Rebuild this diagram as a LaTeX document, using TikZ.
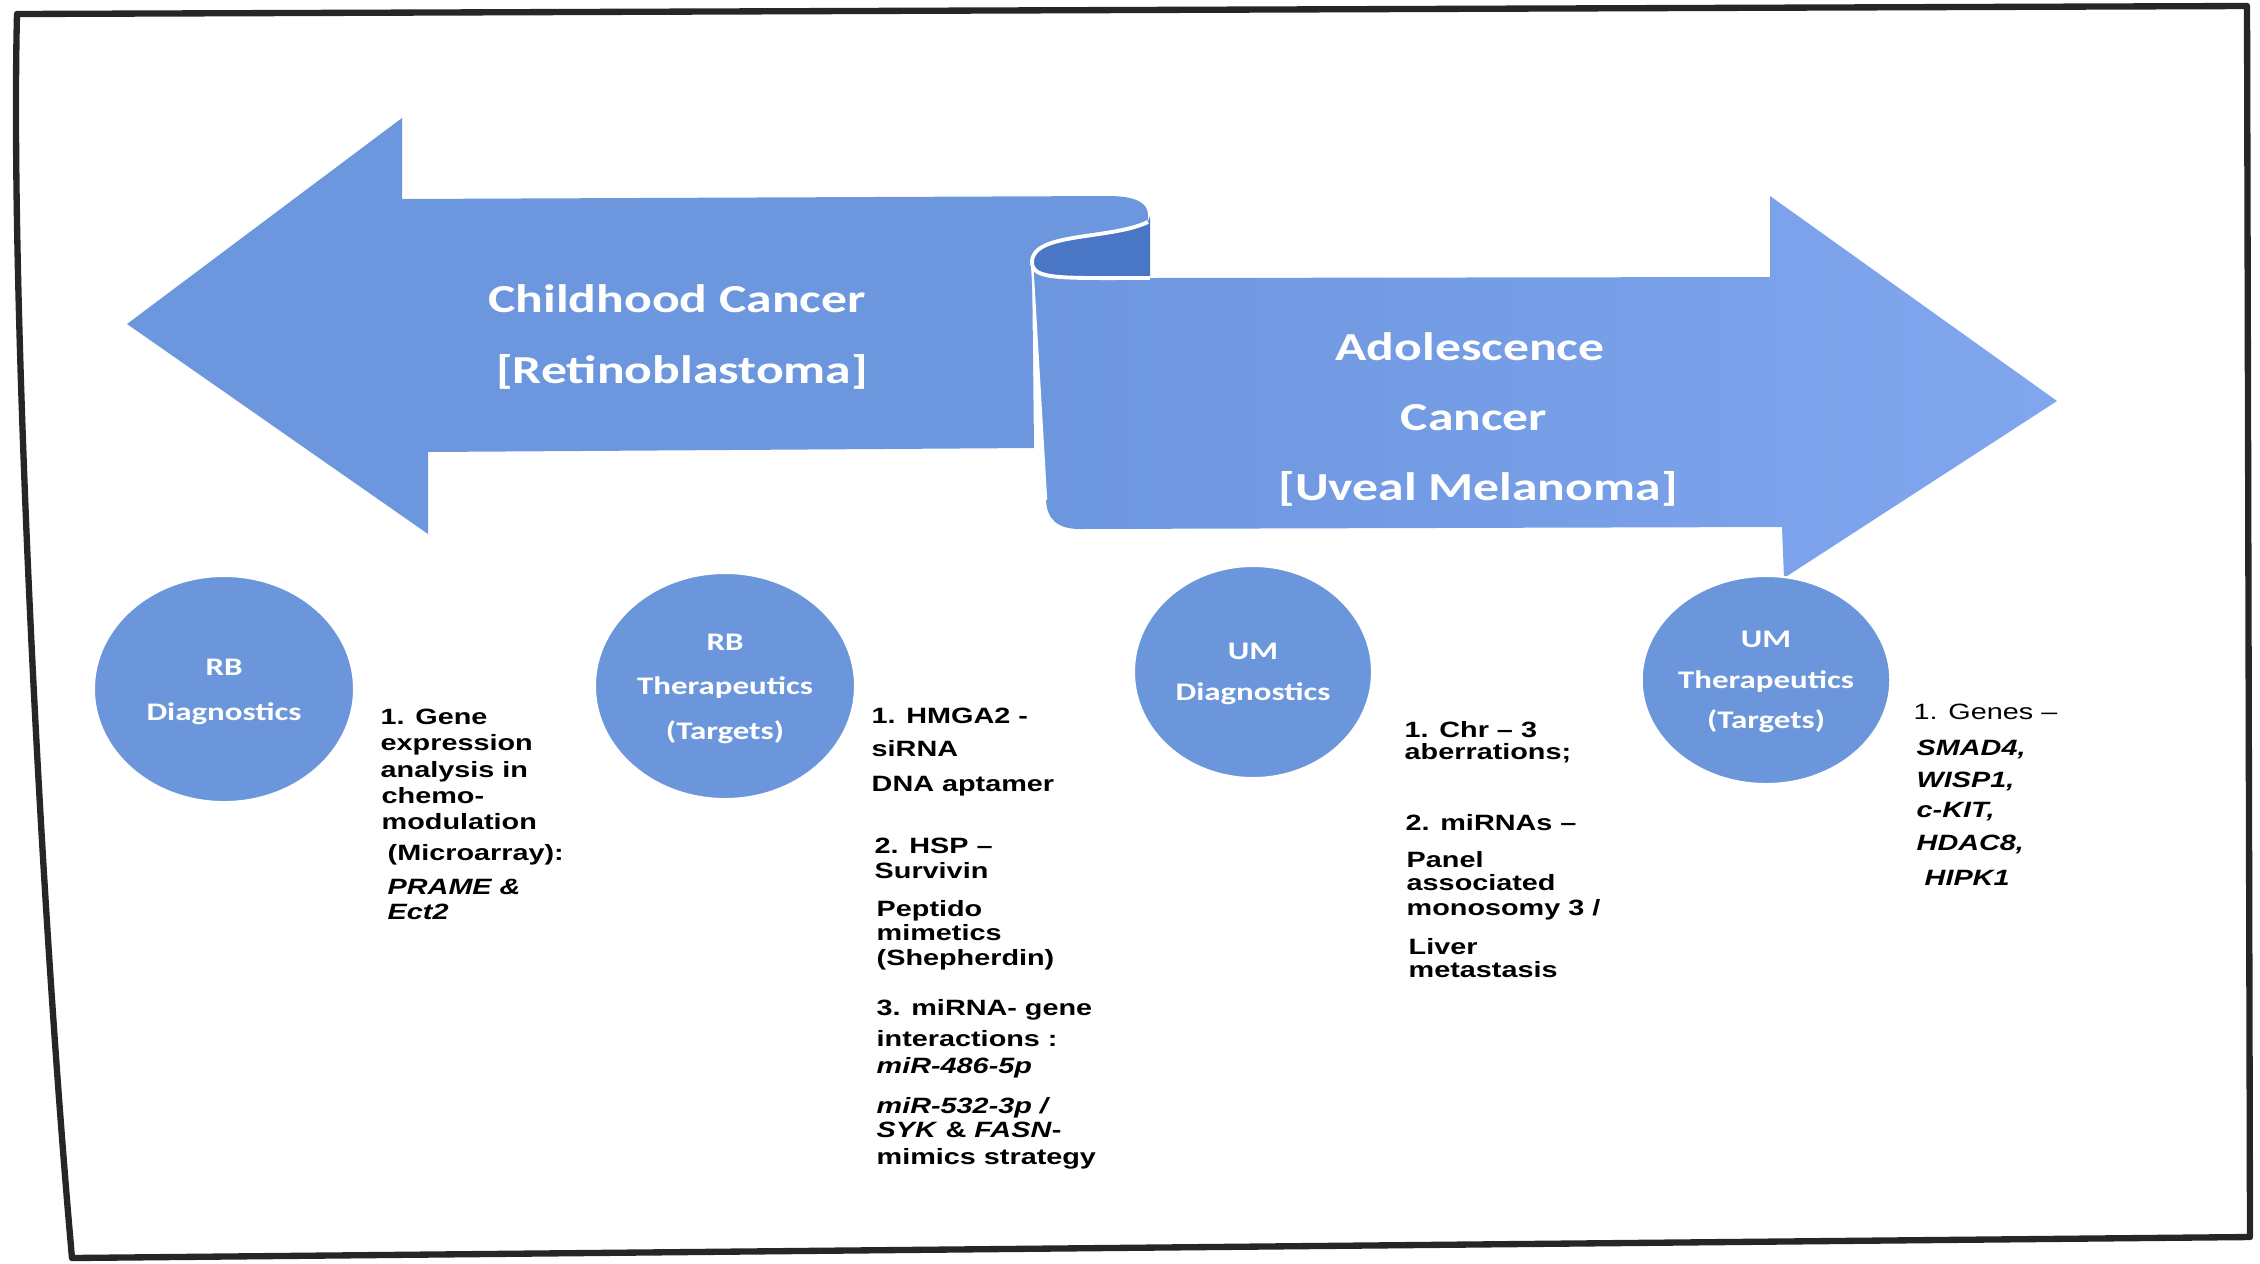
\documentclass[tikz,border=0pt]{standalone}
\usepackage{fontspec}
\usetikzlibrary{shapes.geometric}
\newfontfamily\calib{Carlito}
\newfontfamily\arialf{Liberation Sans}
\definecolor{arrowblue}{RGB}{108,150,222}
\definecolor{arrowblueR}{RGB}{128,166,238}
\definecolor{rolldark}{RGB}{74,118,198}
\definecolor{circblue}{RGB}{108,150,220}
\newcommand\wx[1]{\scalebox{1.3}[1]{#1}}
\begin{document}
\begin{tikzpicture}[x=0.01cm,y=-0.01cm,
  circ/.style={ellipse, fill=circblue, draw=white, line width=0.6pt, inner sep=0pt, text=white},
  circfontA/.style={font=\calib\bfseries\fontsize{7.2}{12.6}\selectfont},
  circfontB/.style={font=\calib\bfseries\fontsize{7.2}{11.4}\selectfont},
  body/.style={anchor=base west, inner sep=0pt, font=\arialf\bfseries\fontsize{6.3}{7.5}\selectfont},
  title/.style={anchor=base, text=white, inner sep=0pt, font=\calib\bfseries\fontsize{11.3}{14}\selectfont}]
\useasboundingbox (0,0) rectangle (2260,1263);

% page frame
\draw[line width=1.8pt, black!85, line join=round] (17,14) -- (2247,6) -- (2250,1237) -- (72,1258)
  .. controls (40,900) and (10,300) .. (17,14) -- cycle;

% left arrow (childhood)
\fill[arrowblue] (127,324) -- (402,118) -- (402,199) -- (1108,196)
  .. controls (1136,196) and (1148,203) .. (1148,215) -- (1148,222)
  .. controls (1110,240) and (1032,232) .. (1032,262) -- (1034,448) -- (428,452) -- (428,534) -- cycle;

% rolled part
\fill[rolldark] (1148,222) .. controls (1110,240) and (1032,232) .. (1032,262)
  .. controls (1032,280) and (1060,278) .. (1150,278) -- (1150,216) -- cycle;

% right arrow (adolescence)
\path[left color=arrowblue, right color=arrowblueR] (1032,262)
  .. controls (1032,280) and (1060,278) .. (1150,278) -- (1770,277) -- (1770,196) -- (2057,401)
  -- (1784,578) -- (1782,527) -- (1080,529) .. controls (1058,529) and (1047,520) .. (1046,500) -- cycle;

\draw[white, line width=1.1pt] (1148,222) .. controls (1110,240) and (1032,232) .. (1032,262)
  .. controls (1032,280) and (1060,278) .. (1150,278);
\draw[white, line width=0.7pt] (1032,262) -- (1046,500);

% titles
\node[title] (t1) at (677,312) {\wx{Childhood Cancer}};
\node[title] (t2) at (682,383) {\wx{[Retinoblastoma]}};
\node[title] (t3) at (1470,360) {\wx{Adolescence}};
\node[title] (t4) at (1474,430) {\wx{Cancer}};
\node[title] (t5) at (1478,500) {\wx{[Uveal Melanoma]}};

% circles
\node[circ, circfontA, minimum width=2.60cm, minimum height=2.26cm] (rbd) at (224,689)
  {\wx{\begin{tabular}{@{}c@{}}RB\\Diagnostics\end{tabular}}};
\node[circ, circfontA, minimum width=2.60cm, minimum height=2.26cm] (rbt) at (725,686)
  {\wx{\begin{tabular}{@{}c@{}}RB\\Therapeutics\\(Targets)\end{tabular}}};
\node[circ, circfontB, minimum width=2.38cm, minimum height=2.12cm] (umd) at (1253,672)
  {\wx{\begin{tabular}{@{}c@{}}UM\\Diagnostics\end{tabular}}};
\node[circ, circfontB, minimum width=2.42cm, minimum height=2.08cm] (umt) at (1766,680)
  {\wx{\begin{tabular}{@{}c@{}}UM\\Therapeutics\\(Targets)\end{tabular}}};

% text blocks
\foreach \xx/\yy/\txt [count=\i] in {
  380/724/{1. Gene}, 380/750/{expression}, 380/777/{analysis in}, 381/803/{chemo-},
  381/829/{modulation}, 387/860/{(Microarray):}, 387/894/{\textit{PRAME \&}}, 387/919/{\textit{Ect2}}}
  \node[body] (ba\i) at (\xx,\yy) {\wx{\txt}};

\foreach \xx/\yy/\txt [count=\i] in {
  871/723/{1. HMGA2 -}, 871/756/{siRNA}, 871/791/{DNA aptamer},
  874/853/{2. HSP –}, 874/878/{Survivin},
  876/916/{Peptido}, 876/940/{mimetics}, 876/965/{(Shepherdin)},
  876/1015/{3. miRNA- gene}, 876/1046/{interactions :}, 876/1073/{\textit{miR-486-5p}},
  876/1113/{\textit{miR-532-3p /}}, 876/1137/{\textit{SYK} \& \textit{FASN}-}, 876/1164/{mimics strategy}}
  \node[body] (bb\i) at (\xx,\yy) {\wx{\txt}};

\foreach \xx/\yy/\txt [count=\i] in {
  1404/737/{1. Chr – 3}, 1404/759/{aberrations;}, 1405/830/{2. miRNAs –},
  1406/867/{Panel}, 1406/890/{associated}, 1406/915/{monosomy 3 /},
  1408/954/{Liver}, 1408/977/{metastasis}}
  \node[body] (bc\i) at (\xx,\yy) {\wx{\txt}};

\node[body, font=\arialf\fontsize{6.3}{7.5}\selectfont] (bd0) at (1913,719) {\wx{1. Genes –}};
\foreach \xx/\yy/\txt [count=\i] in {
  1916/755/{SMAD4,}, 1916/787/{WISP1,}, 1916/817/{c-KIT,}, 1916/850/{HDAC8,}, 1924/885/{HIPK1}}
  \node[body] (bd\i) at (\xx,\yy) {\wx{\textit{\txt}}};
\end{tikzpicture}
\end{document}
